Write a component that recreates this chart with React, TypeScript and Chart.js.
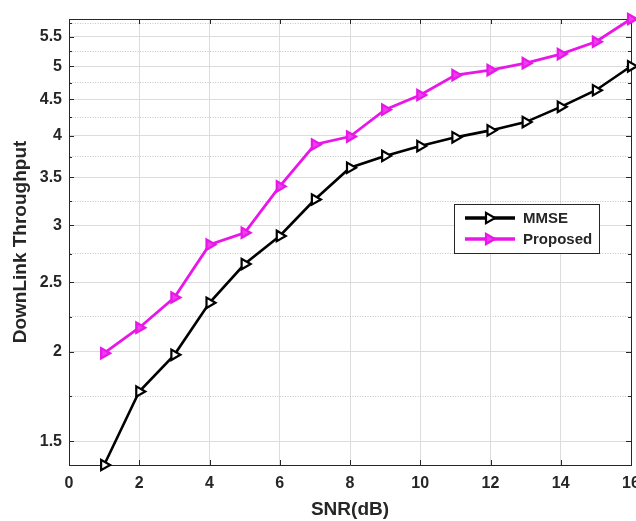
import React, { useEffect, useRef } from 'react';
import { Chart, registerables } from 'chart.js';

Chart.register(...registerables);

// ---- data ----
const snr = [1, 2, 3, 4, 5, 6, 7, 8, 9, 10, 11, 12, 13, 14, 15, 16];
const mmse = [1.39, 1.76, 1.98, 2.34, 2.65, 2.9, 3.26, 3.61, 3.75, 3.87, 3.98, 4.07, 4.18, 4.39, 4.63, 5.0];
const proposed = [1.99, 2.16, 2.38, 2.82, 2.93, 3.4, 3.89, 3.99, 4.35, 4.56, 4.86, 4.94, 5.05, 5.2, 5.41, 5.82];
const seriesLabels = ['MMSE', 'Proposed'];
const xTickValues = [0, 2, 4, 6, 8, 10, 12, 14, 16];
const yMajorTicks = [1.5, 2, 2.5, 3, 3.5, 4, 4.5, 5, 5.5];
const yMinorTicks = [1.732, 2.236, 2.739, 3.24, 3.742, 4.243, 4.743, 5.244, 5.745];
const xRange = [0, 16];
const yRange = [1.39, 5.82];
const xTitle = 'SNR(dB)';
const yTitle = 'DownLink Throughput';

// ---- styles ----
const FONT = "'Liberation Sans', Arial, Helvetica, sans-serif";
const TEXT = '#262626';
const AXIS = '#262626';
const GRID = '#dcdcdc';
const MINOR = '#c4c4c4';
const MAGENTA = '#e817e8';
const MAGENTA_FILL = '#ee3cee';

const isMinor = (v: number) => yMinorTicks.some((m) => Math.abs(m - v) < 1e-6);
const isMajorY = (v: number) => yMajorTicks.some((m) => Math.abs(m - v) < 1e-6);

const framePlugin = {
  id: 'frameTicks',
  beforeDatasetsDraw(chart: any) {
    const { ctx, chartArea: ca, scales } = chart;
    ctx.save();
    ctx.strokeStyle = AXIS;
    ctx.lineWidth = 1;
    ctx.beginPath();
    ctx.moveTo(ca.left, ca.top + 0.5);
    ctx.lineTo(ca.right + 0.5, ca.top + 0.5);
    ctx.lineTo(ca.right + 0.5, ca.bottom);
    ctx.stroke();
    // inward tick marks
    ctx.beginPath();
    xTickValues.forEach((v) => {
      const px = Math.round(scales.x.getPixelForValue(v)) + 0.5;
      ctx.moveTo(px, ca.bottom);
      ctx.lineTo(px, ca.bottom - 5);
      ctx.moveTo(px, ca.top);
      ctx.lineTo(px, ca.top + 5);
    });
    yMajorTicks.forEach((v) => {
      const py = Math.round(scales.y.getPixelForValue(v)) + 0.5;
      ctx.moveTo(ca.left, py);
      ctx.lineTo(ca.left + 5, py);
      ctx.moveTo(ca.right, py);
      ctx.lineTo(ca.right - 5, py);
    });
    yMinorTicks.forEach((v) => {
      if (v > yRange[1]) return;
      const py = Math.round(scales.y.getPixelForValue(v)) + 0.5;
      ctx.moveTo(ca.left, py);
      ctx.lineTo(ca.left + 3, py);
      ctx.moveTo(ca.right, py);
      ctx.lineTo(ca.right - 3, py);
    });
    ctx.stroke();
    ctx.restore();
  },
};

const legendPlugin = {
  id: 'insideLegend',
  afterDraw(chart: any) {
    const { ctx, chartArea: ca } = chart;
    const left = ca.right - 177;
    const top = ca.top + 185;
    const w = 145;
    const h = 49;
    ctx.save();
    ctx.fillStyle = '#ffffff';
    ctx.fillRect(left, top, w, h);
    ctx.strokeStyle = AXIS;
    ctx.lineWidth = 1;
    ctx.strokeRect(left + 0.5, top + 0.5, w, h);
    chart.data.datasets.forEach((ds: any, i: number) => {
      const y = top + 14 + i * 21;
      ctx.strokeStyle = ds.borderColor;
      ctx.lineWidth = ds.borderWidth + 0.7;
      ctx.beginPath();
      ctx.moveTo(left + 11, y);
      ctx.lineTo(left + 61, y);
      ctx.stroke();
      // marker: right-pointing triangle
      const r = ds.pointRadius;
      const cx = left + 35;
      ctx.beginPath();
      for (let k = 0; k < 3; k++) {
        const a = Math.PI / 2 + k * ((2 * Math.PI) / 3);
        const px = cx + Math.sin(a) * r;
        const py = y - Math.cos(a) * r;
        if (k === 0) ctx.moveTo(px, py);
        else ctx.lineTo(px, py);
      }
      ctx.closePath();
      ctx.fillStyle = ds.pointBackgroundColor;
      ctx.fill();
      ctx.lineWidth = ds.pointBorderWidth;
      ctx.strokeStyle = ds.pointBorderColor;
      ctx.stroke();
      ctx.fillStyle = TEXT;
      ctx.font = `bold 15px ${FONT}`;
      ctx.textBaseline = 'middle';
      ctx.textAlign = 'left';
      ctx.fillText(ds.label, left + 69, y + 1);
    });
    ctx.restore();
  },
};

export default function App() {
  const canvasRef = useRef<HTMLCanvasElement | null>(null);

  useEffect(() => {
    document.body.style.margin = '0';
    document.body.style.overflow = 'hidden';
    const canvas = canvasRef.current;
    if (!canvas) return;
    const chart = new Chart(canvas, {
      type: 'line',
      data: {
        datasets: [
          {
            label: seriesLabels[0],
            data: snr.map((x, i) => ({ x, y: mmse[i] })),
            borderColor: '#000000',
            borderWidth: 2.6,
            pointStyle: 'triangle',
            pointRotation: 90,
            pointRadius: 6,
            pointBorderWidth: 2.2,
            pointBorderColor: '#000000',
            pointBackgroundColor: '#ffffff',
            clip: false,
          } as any,
          {
            label: seriesLabels[1],
            data: snr.map((x, i) => ({ x, y: proposed[i] })),
            borderColor: MAGENTA,
            borderWidth: 2.8,
            pointStyle: 'triangle',
            pointRotation: 90,
            pointRadius: 6,
            pointBorderWidth: 2.2,
            pointBorderColor: MAGENTA,
            pointBackgroundColor: MAGENTA_FILL,
            clip: false,
          } as any,
        ],
      },
      options: {
        responsive: false,
        maintainAspectRatio: false,
        animation: false,
        layout: { padding: { left: 0, right: 19, top: 19, bottom: 0 } },
        plugins: {
          legend: { display: false },
          tooltip: { enabled: false },
        },
        scales: {
          x: {
            type: 'linear',
            min: xRange[0],
            max: xRange[1],
            afterBuildTicks: (scale: any) => {
              scale.ticks = xTickValues.map((v) => ({ value: v }));
            },
            afterFit: (scale: any) => {
              scale.height = 56;
            },
            ticks: {
              autoSkip: false,
              maxRotation: 0,
              padding: 9,
              color: TEXT,
              font: { family: FONT, size: 16, weight: 'bold' },
            },
            grid: { color: GRID, drawTicks: false, lineWidth: 1 },
            border: { color: AXIS, width: 1 },
            title: {
              display: true,
              text: xTitle,
              color: TEXT,
              font: { family: FONT, size: 19, weight: 'bold' },
              padding: { top: 0, bottom: 0 },
            },
          },
          y: {
            type: 'logarithmic',
            min: yRange[0],
            max: yRange[1],
            afterBuildTicks: (scale: any) => {
              scale.ticks = [...yMajorTicks, ...yMinorTicks]
                .filter((v) => v >= yRange[0] && v <= yRange[1])
                .sort((a, b) => a - b)
                .map((v) => ({ value: v }));
            },
            afterFit: (scale: any) => {
              scale.width = 69;
            },
            ticks: {
              autoSkip: false,
              padding: 7,
              color: TEXT,
              font: { family: FONT, size: 16, weight: 'bold' },
              callback: (value: any) => (isMajorY(Number(value)) ? String(value) : ''),
            },
            grid: {
              drawTicks: false,
              lineWidth: 1,
              color: (ctx: any) => (ctx.tick && isMinor(ctx.tick.value) ? MINOR : GRID),
            },
            border: {
              color: AXIS,
              width: 1,
              dash: (ctx: any) => (ctx.tick && isMinor(ctx.tick.value) ? [1, 1.5] : []),
            },
            title: {
              display: true,
              text: yTitle,
              color: TEXT,
              font: { family: FONT, size: 19, weight: 'bold' },
              padding: { top: 9, bottom: 0 },
            },
          },
        },
      } as any,
      plugins: [framePlugin, legendPlugin],
    });
    return () => chart.destroy();
  }, []);

  return (
    <div style={{ width: 650, height: 521, position: 'relative' }}>
      <canvas ref={canvasRef} width={650} height={521} style={{ display: 'block' }} />
    </div>
  );
}
